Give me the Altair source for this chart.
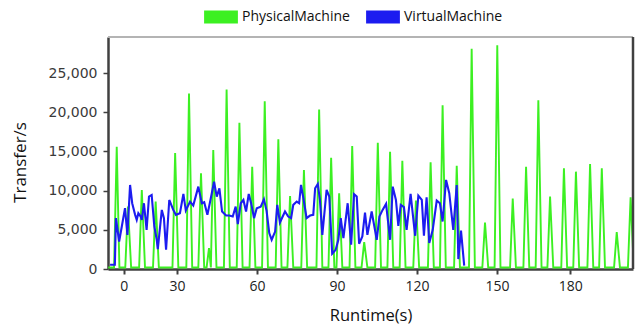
import altair as alt
import pandas as pd

# ---- data (x = runtime position, y = Transfer/s) ----
green_peak_t = [7.4, 11.6, 16.8, 22.0, 29.3, 34.5, 39.0, 42.0, 43.6, 48.6, 53.4, 58.2,
                62.9, 68.0, 72.4, 77.6, 83.3, 87.8, 90.8, 95.7, 100.2, 105.3, 109.9,
                114.5, 119.6, 125.1, 129.6, 134.9, 140.5, 145.5, 150.1, 155.9, 160.9,
                165.5, 169.9, 175.1, 179.6, 184.9, 189.3, 194.9, 200.1]
green_peak_v = [15600, 7960, 10090, 8600, 14790, 22390, 12210, 2670, 15180, 22900, 18650,
                13050, 21410, 16540, 9320, 12630, 20350, 14200, 9670, 15680, 3430, 16100,
                14960, 13810, 8730, 13610, 20900, 13180, 28110, 5930, 28530, 8980, 13050,
                21540, 9240, 12850, 12420, 13390, 12850, 4710, 9160]
green_floor_t = [4.2, 6.4, 8.4, 10.6, 12.8, 15.8, 18.0, 21.0, 23.2, 28.3, 30.5, 33.5, 35.7,
                 38.0, 40.2, 41.1, 42.7, 44.8, 47.6, 49.8, 52.4, 54.6, 57.2, 59.4, 61.9,
                 64.1, 67.0, 69.2, 71.4, 73.6, 76.6, 78.8, 82.3, 84.5, 86.8, 89.0, 89.8,
                 92.0, 94.7, 96.9, 99.2, 101.4, 104.3, 106.5, 108.9, 111.1, 113.5, 115.7,
                 118.6, 120.8, 124.1, 126.3, 128.6, 130.8, 133.9, 136.1, 139.5, 141.7,
                 144.5, 146.7, 149.1, 151.3, 154.9, 157.1, 159.9, 162.1, 164.5, 166.7,
                 168.9, 171.1, 174.1, 176.3, 178.6, 180.8, 183.9, 186.1, 188.3, 190.5,
                 193.9, 196.1, 199.1, 201.3]
green_floor_v = 200

blue_t = [4.9, 6.7, 7.1, 8.3, 9.3, 10.5, 11.4, 12.4, 13.2, 14.3,
          14.9, 15.5, 16.4, 16.8, 17.6, 18.6, 19.5, 20.5, 21.5, 22.4,
          22.8, 24.3, 25.1, 25.9, 27.1, 28.6, 29.6, 31.1, 32.4, 33.3,
          34.9, 36.1, 38.0, 39.3, 40.2, 41.4, 42.6, 43.9, 44.9, 45.9,
          46.9, 48.4, 49.6, 50.9, 52.0, 52.8, 53.9, 54.9, 55.9, 56.9,
          57.8, 58.9, 59.9, 61.4, 62.6, 63.6, 64.6, 65.5, 66.8, 67.6,
          68.6, 70.5, 71.7, 72.8, 73.6, 74.9, 75.8, 76.5, 77.4, 78.6,
          79.9, 81.1, 81.8, 82.8, 83.6, 84.5, 86.1, 87.1, 88.2, 89.5,
          90.5, 91.4, 92.4, 94.0, 95.3, 96.4, 97.4, 98.3, 99.5, 100.5,
          101.4, 103.0, 104.9, 105.9, 107.1, 108.4, 109.9, 110.9, 112.1, 113.0,
          113.9, 115.1, 116.1, 117.6, 119.3, 120.5, 121.8, 122.6, 123.6, 124.6,
          125.9, 127.4, 128.6, 129.6, 130.9, 132.1, 133.6, 134.9, 135.5, 136.5,
          137.7]
blue_v = [550, 550, 6490, 3510, 5420, 7760, 4360, 10720, 8390, 6910,
          6270, 7120, 6690, 6270, 8390, 5000, 9240, 9450, 5420, 3730,
          2540, 7540, 6490, 2450, 8810, 7540, 6910, 7120, 9580, 7460,
          8600, 8090, 10510, 8390, 8520, 6910, 8900, 11140, 9240, 10300,
          7330, 6820, 6820, 6690, 7960, 5720, 8390, 8810, 7330, 9580,
          8390, 6490, 7760, 7960, 8900, 7420, 4580, 3730, 4780, 8180,
          5930, 7330, 6690, 6490, 8180, 8600, 8390, 10720, 9030, 6490,
          6820, 6910, 10300, 10850, 8810, 4360, 10090, 9240, 1950, 2450,
          3730, 6490, 3940, 8390, 3090, 9540, 9240, 3220, 4150, 7200,
          4360, 7330, 3730, 6690, 7540, 8310, 3730, 10510, 8810, 5510,
          8180, 7890, 5000, 9580, 4240, 9360, 8810, 4240, 9160, 3310,
          5000, 8730, 8390, 6060, 11360, 9670, 5000, 10720, 1270, 4910,
          420]

tick_values = [10, 30, 60, 90, 120, 150, 177.5]
tick_labels = ["0", "30", "60", "90", "120", "150", "180"]
y_ticks = [0, 5000, 10000, 15000, 20000, 25000]
series = ["PhysicalMachine", "VirtualMachine"]
colors = ["#3cf022", "#1c1cf0"]

assert len(blue_t) == len(blue_v)
assert len(green_peak_t) == len(green_peak_v)

rows = []
for t, v in zip(green_peak_t, green_peak_v):
    rows.append({"t": t, "v": v, "series": series[0]})
for t in green_floor_t:
    rows.append({"t": t, "v": green_floor_v, "series": series[0]})
for t, v in zip(blue_t, blue_v):
    rows.append({"t": t, "v": v, "series": series[1]})
df = pd.DataFrame(rows).sort_values(["series", "t"])

W, H = 525, 232

label_expr = ("[" + ",".join(f"'{l}'" for l in tick_labels) + "][indexof(["
              + ",".join(str(v) for v in tick_values) + "], datum.value)]")

x_axis = alt.Axis(values=tick_values, labelExpr=label_expr, title="Runtime(s)",
                  grid=False, domainColor="#404040", domainWidth=2.5,
                  tickColor="#404040", tickWidth=2, tickSize=5, labelPadding=5,
                  labelFont="Open Sans", labelFontSize=14, labelColor="#222222",
                  labelFlush=False, titleFont="Open Sans", titleFontSize=16.5,
                  titleFontWeight="normal", titleColor="#111111", titlePadding=14)
y_axis = alt.Axis(values=y_ticks, labelExpr="format(datum.value, ',.0f')",
                  title="Transfer/s", grid=False,
                  domainColor="#404040", domainWidth=2.5, tickColor="#404040",
                  tickWidth=1.5, tickSize=5, labelPadding=6,
                  labelFont="DejaVu Sans", labelFontSize=14, labelColor="#3a3a3a",
                  titleFont="Open Sans", titleFontSize=17, titleFontWeight="normal",
                  titleColor="#111111", titlePadding=19, titleY=125)

legend = alt.Legend(title=None, orient="none", legendX=100, legendY=-33,
                    direction="horizontal", symbolType="M-2.6,0H2.6", symbolSize=169,
                    symbolStrokeWidth=13, labelOffset=8, columnPadding=-10,
                    labelFont="Open Sans", labelFontSize=14, labelColor="#111111",
                    padding=0)

base = alt.Chart(df).encode(
    x=alt.X("t:Q", scale=alt.Scale(domain=[4.125, 201.0], nice=False, zero=False), axis=x_axis),
    y=alt.Y("v:Q", scale=alt.Scale(domain=[0, 29600], nice=False), axis=y_axis),
    color=alt.Color("series:N", scale=alt.Scale(domain=series, range=colors), legend=legend),
)

green = base.transform_filter(alt.datum.series == series[0]).mark_line(strokeWidth=1.9, clip=True)
blue = base.transform_filter(alt.datum.series == series[1]).mark_line(strokeWidth=2.1, clip=True)

frame = alt.Chart(alt.Data(values=[{}]))
top_border = frame.mark_rule(color="#b4b4b4", strokeWidth=2).encode(
    x=alt.value(0), x2=alt.value(W), y=alt.value(0))
right_border = frame.mark_rule(color="#404040", strokeWidth=2.5).encode(
    x=alt.value(W), y=alt.value(0), y2=alt.value(H))

chart = alt.layer(green, blue, top_border, right_border).properties(
    width=W, height=H,
    autosize=alt.AutoSizeParams(type="none"),
    padding={"left": 108, "top": 37, "right": 4, "bottom": 58},
    background="white",
).configure_view(stroke=None)

chart.save("out.html", embed_options={"renderer": "svg", "actions": False})
